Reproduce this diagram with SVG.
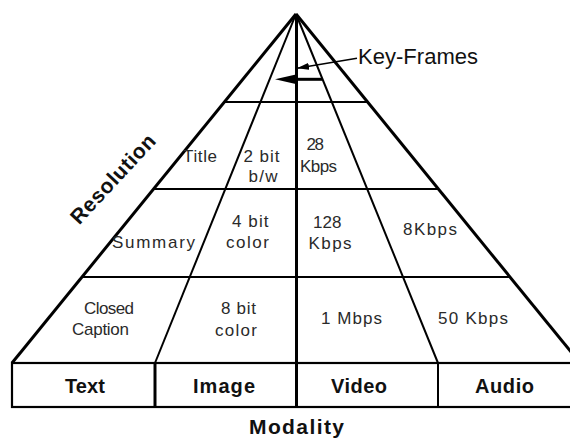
<svg xmlns="http://www.w3.org/2000/svg" width="570" height="439" viewBox="0 0 570 439">
  <style>
    .outer { stroke: #000; stroke-width: 3; fill: none; }
    .axis { stroke: #000; stroke-width: 3; fill: none; }
    .inner { stroke: #000; stroke-width: 2; fill: none; }
    .row { stroke: #000; stroke-width: 2; fill: none; }
    .box { stroke: #000; stroke-width: 2.2; fill: #fff; }
    .cell { font-family: "Liberation Sans", Arial, sans-serif; font-size: 17px; fill: #2a2a2a; }
    .mod { font-family: "Liberation Sans", Arial, sans-serif; font-size: 20px; font-weight: bold; fill: #111; }
    .title { font-family: "Liberation Sans", Arial, sans-serif; font-size: 21px; font-weight: bold; fill: #111; }
    .callout { font-family: "Liberation Sans", Arial, sans-serif; font-size: 22px; fill: #111; }
  </style>
  <defs>
    <marker id="tipSmall" viewBox="0 0 12 7" refX="12" refY="3.5" markerWidth="12" markerHeight="7" markerUnits="userSpaceOnUse" orient="auto">
      <path d="M0,0 L12,3.5 L0,7 z" fill="#000"/>
    </marker>
    <marker id="tipLarge" viewBox="0 0 22 10" refX="7" refY="5" markerWidth="22" markerHeight="10" markerUnits="userSpaceOnUse" orient="auto">
      <path d="M0,0 L22,5 L0,10 z" fill="#000"/>
    </marker>
  </defs>

  <rect width="570" height="439" fill="#fff"/>

  <!-- modality strip along the base -->
  <g id="modality-strip">
    <rect class="box" x="12" y="363" width="568" height="44"/>
    <line class="axis" x1="155" y1="363" x2="155" y2="407"/>
    <line class="inner" x1="438" y1="363" x2="438" y2="407"/>
    <text class="mod" x="65" y="392.5" textLength="40" lengthAdjust="spacing">Text</text>
    <text class="mod" x="193" y="392.5" textLength="62" lengthAdjust="spacing">Image</text>
    <text class="mod" x="331" y="392.5" textLength="56" lengthAdjust="spacing">Video</text>
    <text class="mod" x="475" y="392.5" textLength="59" lengthAdjust="spacing">Audio</text>
  </g>

  <!-- pyramid frame: sides, modality rays and resolution rows -->
  <g id="connectors">
    <line class="outer" x1="12" y1="363" x2="296" y2="14"/>
    <line class="outer" x1="296" y1="14" x2="580" y2="363"/>
    <line class="inner" x1="296" y1="14" x2="155" y2="363"/>
    <line class="inner" x1="296" y1="14" x2="438" y2="363"/>
    <line class="axis" x1="296.5" y1="14" x2="296.5" y2="407"/>
    <line class="row" x1="225" y1="102" x2="367" y2="102"/>
    <line class="row" x1="154" y1="189" x2="438" y2="189"/>
    <line class="row" x1="82" y1="277" x2="510" y2="277"/>
  </g>

  <!-- row 1 -->
  <g id="row-low">
    <text class="cell" x="183" y="162" textLength="34" lengthAdjust="spacing">Title</text>
    <text class="cell" x="243.5" y="162" textLength="36" lengthAdjust="spacing">2 bit</text>
    <text class="cell" x="248.5" y="182" textLength="29" lengthAdjust="spacing">b/w</text>
    <text class="cell" x="306.5" y="150" textLength="17.5" lengthAdjust="spacing">28</text>
    <text class="cell" x="300" y="172" textLength="37" lengthAdjust="spacing">Kbps</text>
  </g>

  <!-- row 2 -->
  <g id="row-mid">
    <text class="cell" x="112" y="248" textLength="83" lengthAdjust="spacing">Summary</text>
    <text class="cell" x="232" y="227" textLength="36.5" lengthAdjust="spacing">4 bit</text>
    <text class="cell" x="226" y="248" textLength="43" lengthAdjust="spacing">color</text>
    <text class="cell" x="313" y="228" textLength="28.5" lengthAdjust="spacing">128</text>
    <text class="cell" x="308.5" y="248.5" textLength="43" lengthAdjust="spacing">Kbps</text>
    <text class="cell" x="403" y="235" textLength="54" lengthAdjust="spacing">8Kbps</text>
  </g>

  <!-- row 3 -->
  <g id="row-high">
    <text class="cell" x="84" y="313.5" textLength="50" lengthAdjust="spacing">Closed</text>
    <text class="cell" x="72" y="335" textLength="57" lengthAdjust="spacing">Caption</text>
    <text class="cell" x="221" y="314" textLength="35" lengthAdjust="spacing">8 bit</text>
    <text class="cell" x="215" y="335.5" textLength="42" lengthAdjust="spacing">color</text>
    <text class="cell" x="321" y="323.5" textLength="61" lengthAdjust="spacing">1 Mbps</text>
    <text class="cell" x="438" y="323.5" textLength="70" lengthAdjust="spacing">50 Kbps</text>
  </g>

  <!-- key-frame callout -->
  <g id="key-frames">
    <line x1="357" y1="58.3" x2="297" y2="68.3" stroke="#000" stroke-width="1.6" marker-end="url(#tipSmall)"/>
    <line x1="322" y1="79.3" x2="290" y2="79.3" stroke="#000" stroke-width="3" marker-end="url(#tipLarge)"/>
    <text class="callout" x="358" y="64" textLength="120" lengthAdjust="spacing">Key-Frames</text>
  </g>

  <!-- axis titles -->
  <g id="axis-titles">
    <text class="title" transform="translate(113,179) rotate(-47)" x="0" y="7" text-anchor="middle" textLength="114" lengthAdjust="spacing">Resolution</text>
    <text class="title" x="249" y="434" font-size="20" textLength="95" lengthAdjust="spacing">Modality</text>
  </g>
</svg>
